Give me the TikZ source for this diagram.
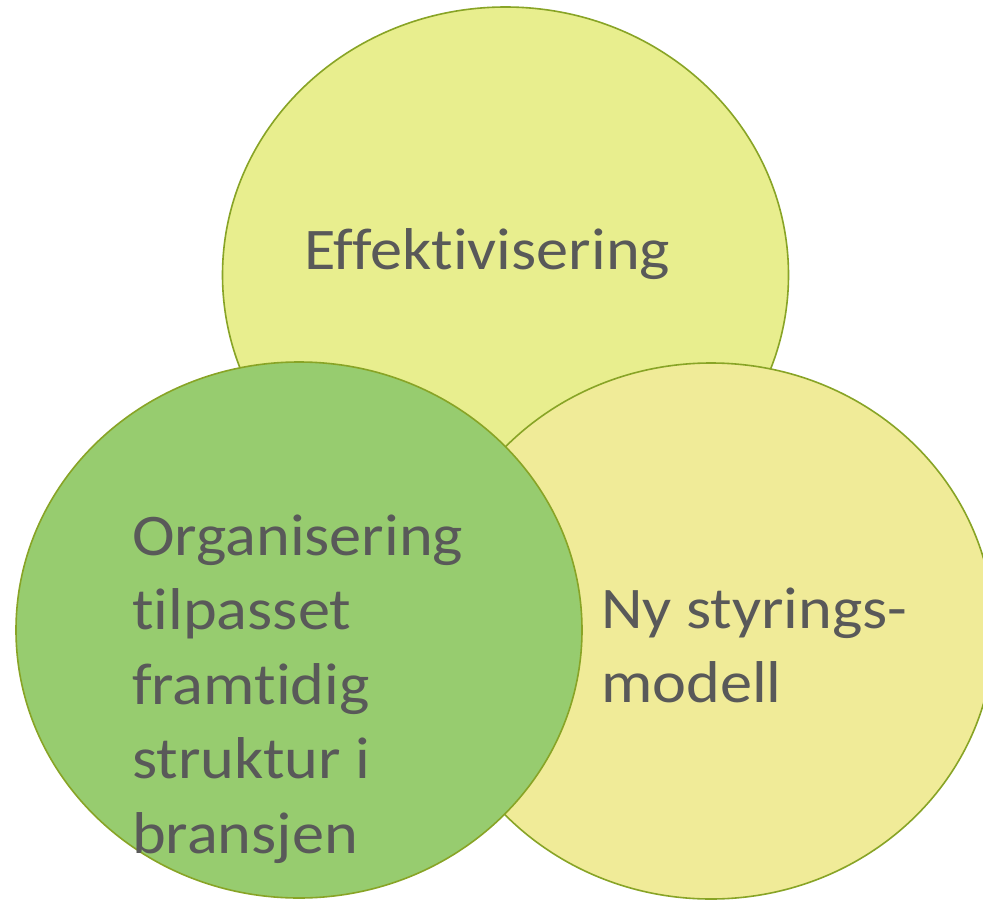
\documentclass[tikz,border=0pt]{standalone}
\usepackage{fontspec}
\usepackage{graphicx}
\setmainfont{Carlito}[Ligatures={NoCommon}]
\usetikzlibrary{shapes.geometric}
\definecolor{ringline}{HTML}{88A426}
\definecolor{topfill}{HTML}{E8EE8E}
\definecolor{rightfill}{HTML}{F0EB98}
\definecolor{leftfill}{HTML}{97CC6F}
\definecolor{labeltext}{HTML}{595959}
\newcommand{\wideword}[1]{\scalebox{1.09}[1]{#1}}
\tikzset{
  ring/.style={ellipse, draw=ringline, line width=1.6pt, inner sep=0pt,
    minimum width=566pt, minimum height=536pt},
  label text/.style={anchor=base west, inner sep=0pt, text=labeltext,
    font=\fontsize{59}{72}\selectfont}
}
\begin{document}
\begin{tikzpicture}[x=1pt,y=-1pt]
  \useasboundingbox (0,0) rectangle (983,900);
  \fill[white] (0,0) rectangle (983,900);
  \begin{scope}
    \clip (0,0) rectangle (983,900);
    % three overlapping rings, drawn back to front
    \node[ring, fill=topfill]   (effring)  at (505.5,275) {};
    \node[ring, fill=rightfill] (styrring) at (711,631) {};
    \node[ring, fill=leftfill]  (orgring)  at (299,630) {};
  \end{scope}
  % labels
  \node[label text] (eff) at (304,269) {\wideword{Effektivisering}};
  \node[label text] (org1) at (132,555)   {\wideword{Organisering}};
  \node[label text] (org2) at (132,629.5) {\wideword{tilpasset}};
  \node[label text] (org3) at (132,704)   {\wideword{framtidig}};
  \node[label text] (org4) at (132,778.5) {\wideword{struktur i}};
  \node[label text] (org5) at (132,853)   {\wideword{bransjen}};
  \node[label text] (sty1) at (601,628)   {\wideword{Ny styrings-}};
  \node[label text] (sty2) at (601,702.5) {\wideword{modell}};
\end{tikzpicture}
\end{document}
